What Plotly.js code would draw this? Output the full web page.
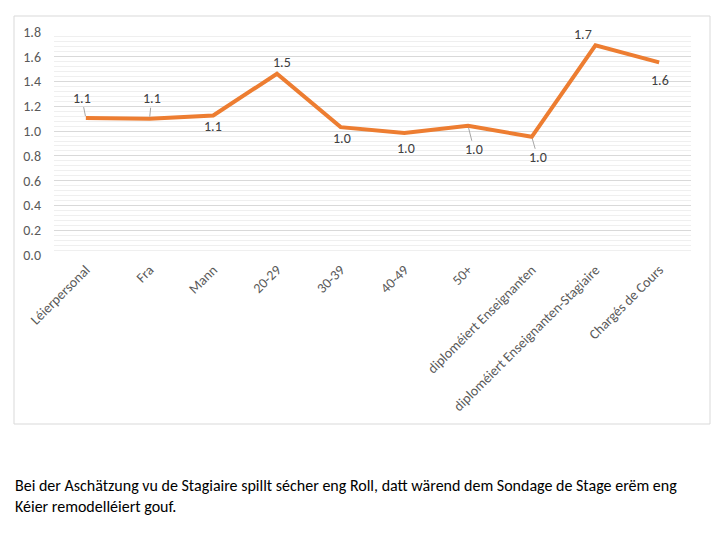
<!DOCTYPE html>
<html>
<head>
<meta charset="utf-8">
<script src="https://cdn.plot.ly/plotly-3.0.1.min.js"></script>
<style>
html,body{margin:0;padding:0;background:#fff;}
#chart{width:724px;height:557px;}
</style>
</head>
<body>
<div id="chart"></div>
<script>
const categories = ["Léierpersonal","Fra","Mann","20-29","30-39","40-49","50+","diploméiert Enseignanten","diploméiert Enseignanten-Stagiaire","Chargés de Cours"];
const values = [1.105, 1.10, 1.126, 1.463, 1.032, 0.984, 1.043, 0.954, 1.692, 1.555];
const yTicks = [0,0.2,0.4,0.6,0.8,1.0,1.2,1.4,1.6,1.8];
const caption = "Bei der Aschätzung vu de Stagiaire spillt sécher eng Roll, datt wärend dem Sondage de Stage erëm eng<br>Kéier remodelléiert gouf.";

// label offsets in pixels (dx, dy) and whether a leader line is drawn
const labelDx = [-4, 2, 0, 5, 1, 2, 6, 6, -12, 1];
const labelDy = [-20, -20, 11, -11, 11, 15, 24, 21, -11, 18];
const leader = [true, true, false, false, false, false, true, true, false, false];

const W = 724, H = 557;
const m = {l:54, r:33, t:32, b:302};
const pw = W - m.l - m.r, ph = H - m.t - m.b;
const px = v => (v - m.l) / pw;
const py = v => (H - m.b - v) / ph;

const FAM = "Carlito, 'Liberation Sans', Arial, sans-serif";
const labelFont = {family:FAM, size:14, color:"#404040"};

const annotations = categories.map((c,i) => {
  const a = {x:c, y:values[i], xref:'x', yref:'y', text:values[i].toFixed(1), font:labelFont};
  if (leader[i]) {
    Object.assign(a, {showarrow:true, arrowhead:0, arrowwidth:1, arrowcolor:'#a6a6a6', ax:labelDx[i], ay:labelDy[i], standoff:2, borderpad:0});
  } else {
    Object.assign(a, {showarrow:false, xshift:labelDx[i], yshift:-labelDy[i]});
  }
  return a;
});

annotations.push({
  xref:'paper', yref:'paper', x:px(13), y:py(496), xanchor:'left', yanchor:'middle', align:'left',
  showarrow:false, text:caption,
  font:{family:FAM, size:16, color:'#000'}
});

const trace = {
  x: categories, y: values, type:'scatter', mode:'lines',
  line:{color:'#ED7D31', width:4, shape:'linear'},
  hoverinfo:'skip'
};

const layout = {
  width:W, height:H,
  margin:m,
  paper_bgcolor:'#fff', plot_bgcolor:'#fff',
  showlegend:false,
  xaxis:{
    type:'category', tickangle:-45, showgrid:false, zeroline:false, showline:false, ticks:'',
    tickfont:{family:FAM, size:14, color:'#595959'},
    ticklabelstandoff:3,
    range:[-0.5, 9.5], automargin:false
  },
  yaxis:{
    range:[0,1.8], tickvals:yTicks, ticktext:yTicks.map(v=>v.toFixed(1)),
    showgrid:true, gridcolor:'#d9d9d9', gridwidth:1, zeroline:false, showline:false, ticks:'',
    tickfont:{family:FAM, size:14, color:'#595959'},
    ticklabelstandoff:12,
    minor:{dtick:0.04, tick0:0, showgrid:true, gridcolor:'#efefef', gridwidth:1},
    automargin:false
  },
  shapes:[{type:'rect', xref:'paper', yref:'paper', x0:px(14), x1:px(710), y0:py(424), y1:py(16), line:{color:'#d9d9d9', width:1}, layer:'below'}],
  annotations:annotations
};

Plotly.newPlot('chart', [trace], layout, {displayModeBar:false, staticPlot:true});
</script>
</body>
</html>
